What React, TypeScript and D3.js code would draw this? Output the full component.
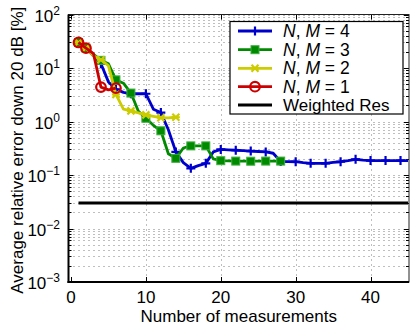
import React, { useEffect, useRef } from 'react';
import * as d3 from 'd3';

// measurements count -> average relative error [%]
const xs4 = d3.range(1, 46);
const nm4 = [30, 23.5, 17, 12, 5.5, 4.0, 3.5, 3.3, 3.3, 3.3, 1.7, 1.47, 0.7, 0.27, 0.17, 0.133, 0.15, 0.165, 0.27, 0.3,
  0.295, 0.29, 0.285, 0.28, 0.275, 0.27, 0.255, 0.178, 0.178, 0.177, 0.17, 0.165, 0.165, 0.165, 0.172, 0.177, 0.185, 0.196,
  0.19, 0.186, 0.186, 0.186, 0.186, 0.186, 0.186];
const xs3 = d3.range(1, 29);
const nm3 = [30, 23.5, 18, 13.9, 12, 6.0, 5.2, 3.4, 1.55, 1.15, 0.85, 0.67, 0.25, 0.205, 0.32, 0.35, 0.35, 0.35, 0.2, 0.185,
  0.183, 0.182, 0.182, 0.181, 0.181, 0.182, 0.182, 0.182];
const xs2 = d3.range(1, 15);
const nm2 = [30, 23.5, 17, 14.3, 11, 3.2, 1.7, 1.58, 1.45, 1.33, 1.25, 1.18, 1.17, 1.2];
const xs1 = d3.range(1, 7);
const nm1 = [30, 23.5, 18.5, 4.4, 3.9, 4.2];
const weightedRes = 0.03;
const weightedX = [1, 45];

const xTicks = [0, 10, 20, 30, 40];
const yExponents = [2, 1, 0, -1, -2, -3];

const legendLabels = ['4', '3', '2', '1'];

const App = () => {
  const svgRef = useRef(null);

  useEffect(() => {
    const W = 410, H = 326;
    const left = 68.5, right = 409, top = 14.5, bottom = 282;
    const x = d3.scaleLinear().domain([0, 45]).range([71, 408]);
    const y = d3.scaleLog().domain([1e-3, 1e2]).range([bottom, top]);

    const svg = d3.select(svgRef.current);
    svg.selectAll('*').remove();
    svg.attr('width', W).attr('height', H);
    const font = 'Liberation Sans, Arial, Helvetica, sans-serif';

    // grid
    const grid = svg.append('g').attr('stroke', '#000').attr('stroke-width', 1).attr('stroke-dasharray', '1,4').attr('opacity', 0.5);
    const minorVals = [];
    for (let e = -3; e < 2; e++) for (let m = 1; m < 10; m++) minorVals.push(m * Math.pow(10, e));
    minorVals.push(100);
    minorVals.forEach((v) => {
      grid.append('line').attr('x1', left).attr('x2', right).attr('y1', Math.round(y(v)) + 0.5).attr('y2', Math.round(y(v)) + 0.5);
    });
    xTicks.filter((t) => t > 0).forEach((t) => {
      grid.append('line').attr('x1', Math.round(x(t)) + 0.5).attr('x2', Math.round(x(t)) + 0.5).attr('y1', top).attr('y2', bottom);
    });

    // ticks
    const ticks = svg.append('g').attr('stroke', '#000').attr('stroke-width', 1);
    xTicks.forEach((t) => {
      const px = Math.round(x(t)) + 0.5;
      ticks.append('line').attr('x1', px).attr('x2', px).attr('y1', bottom).attr('y2', bottom - 5);
      ticks.append('line').attr('x1', px).attr('x2', px).attr('y1', top).attr('y2', top + 5);
    });
    minorVals.forEach((v) => {
      const major = Math.abs(Math.log10(v) - Math.round(Math.log10(v))) < 1e-9;
      const len = major ? 5 : 3;
      const py = Math.round(y(v)) + 0.5;
      ticks.append('line').attr('x1', left).attr('x2', left + len).attr('y1', py).attr('y2', py);
      ticks.append('line').attr('x1', right).attr('x2', right - len).attr('y1', py).attr('y2', py);
    });

    // box
    svg.append('rect').attr('x', left).attr('y', top).attr('width', right - left).attr('height', bottom - top)
      .attr('fill', 'none').attr('stroke', '#222').attr('stroke-width', 1);
    svg.append('line').attr('x1', left).attr('x2', left).attr('y1', top).attr('y2', bottom + 1).attr('stroke', '#000').attr('stroke-width', 2);
    svg.append('line').attr('x1', left - 1).attr('x2', right).attr('y1', bottom).attr('y2', bottom).attr('stroke', '#000').attr('stroke-width', 2);

    // tick labels
    xTicks.forEach((t) => {
      svg.append('text').attr('x', x(t)).attr('y', 303).attr('text-anchor', 'middle')
        .attr('font-family', font).attr('font-size', 17).text(String(t));
    });
    yExponents.forEach((e) => {
      const t = svg.append('text').attr('x', 60).attr('y', y(Math.pow(10, e)) + 7).attr('text-anchor', 'end')
        .attr('font-family', font).attr('font-size', 17);
      t.append('tspan').text('10');
      t.append('tspan').attr('dy', -7).attr('font-size', 12).text(e < 0 ? '\u2212' + Math.abs(e) : String(e));
    });

    svg.append('text').attr('x', (left + right) / 2 + 0).attr('y', 322).attr('text-anchor', 'middle')
      .attr('font-family', font).attr('font-size', 17).text('Number of measurements');
    svg.append('text').attr('transform', `translate(23,${(top + bottom) / 2 + 2}) rotate(-90)`).attr('text-anchor', 'middle')
      .attr('font-family', font).attr('font-size', 17).text('Average relative error down 20 dB [%]');

    const line = d3.line().x((d) => x(d[0])).y((d) => y(d[1]));

    // weighted res
    svg.append('path').datum(weightedX.map((v) => [v, weightedRes])).attr('d', line)
      .attr('stroke', '#000').attr('stroke-width', 3).attr('fill', 'none');

    const series = [
      { xs: xs4, ys: nm4, color: '#0000cc', marker: 'plus' },
      { xs: xs3, ys: nm3, color: '#008a00', marker: 'square' },
      { xs: xs2, ys: nm2, color: '#cccc00', marker: 'star' },
      { xs: xs1, ys: nm1, color: '#cc0000', marker: 'circle' },
    ];

    const drawMarker = (g, kind, color, px, py) => {
      if (kind === 'plus') {
        g.append('path').attr('d', `M${px - 4.5},${py}H${px + 4.5}M${px},${py - 4.5}V${py + 4.5}`)
          .attr('stroke', color).attr('stroke-width', 2.2).attr('fill', 'none');
      } else if (kind === 'square') {
        g.append('rect').attr('x', px - 4).attr('y', py - 4).attr('width', 8).attr('height', 8)
          .attr('fill', color).attr('stroke', '#3fae3f').attr('stroke-width', 1);
      } else if (kind === 'star') {
        g.append('path').attr('d', `M${px - 3.5},${py - 3.5}L${px + 3.5},${py + 3.5}M${px - 3.5},${py + 3.5}L${px + 3.5},${py - 3.5}M${px - 4},${py}H${px + 4}`)
          .attr('stroke', color).attr('stroke-width', 2.2).attr('fill', 'none');
      } else {
        g.append('circle').attr('cx', px).attr('cy', py).attr('r', 4.8)
          .attr('stroke', color).attr('stroke-width', 2.2).attr('fill', 'none');
      }
    };

    series.forEach((s) => {
      const pts = s.xs.map((v, i) => [v, s.ys[i]]);
      const g = svg.append('g');
      g.append('path').datum(pts).attr('d', line).attr('fill', 'none').attr('stroke', s.color)
        .attr('stroke-width', 2.8).attr('stroke-linejoin', 'round');
      pts.filter((p) => p[0] === 1 || p[0] % 2 === 0).forEach((p) => drawMarker(g, s.marker, s.color, x(p[0]), y(p[1])));
    });

    // legend
    const lg = svg.append('g');
    lg.append('rect').attr('x', 230).attr('y', 21.5).attr('width', 173).attr('height', 92.5)
      .attr('fill', '#fff').attr('stroke', '#000').attr('stroke-width', 1.2);
    const rowY = [31, 49.7, 68.3, 86.7, 105];
    series.forEach((s, i) => {
      const ry = rowY[i];
      lg.append('line').attr('x1', 238).attr('x2', 272).attr('y1', ry).attr('y2', ry).attr('stroke', s.color).attr('stroke-width', 2.8);
      drawMarker(lg, s.marker, s.color, 255, ry);
      const t = lg.append('text').attr('x', 283).attr('y', ry + 6).attr('font-family', font).attr('font-size', 17.5);
      t.append('tspan').attr('font-style', 'italic').text('N');
      t.append('tspan').text(', ');
      t.append('tspan').attr('font-style', 'italic').text('M');
      t.append('tspan').text(' = ' + legendLabels[i]);
    });
    lg.append('line').attr('x1', 238).attr('x2', 272).attr('y1', rowY[4]).attr('y2', rowY[4]).attr('stroke', '#000').attr('stroke-width', 3);
    lg.append('text').attr('x', 283).attr('y', rowY[4] + 6).attr('font-family', font).attr('font-size', 17).text('Weighted Res');
  }, []);

  return (
    <svg ref={svgRef} style={{ position: 'absolute', left: 0, top: 0 }}></svg>
  );
};

export default App;
